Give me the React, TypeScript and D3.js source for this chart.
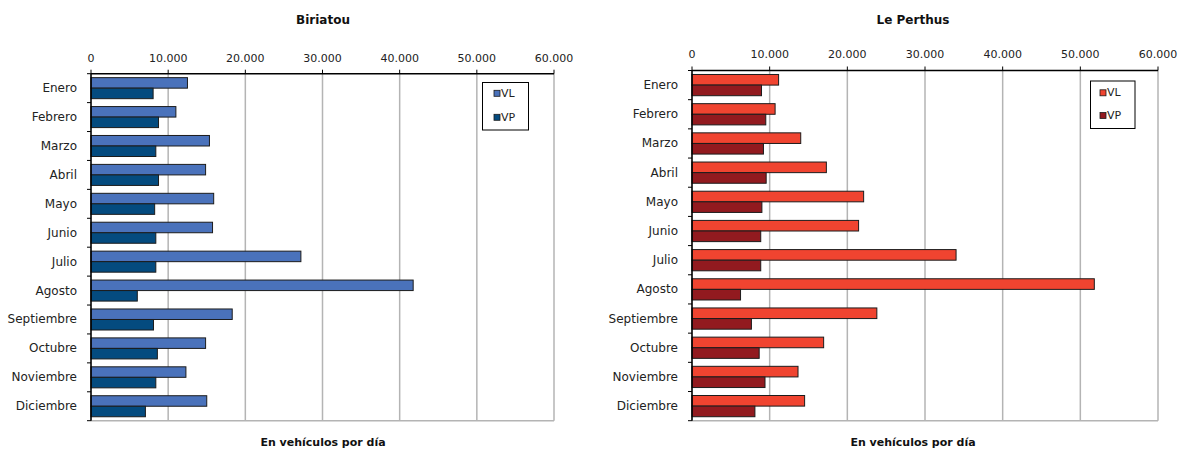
import React from "react";
import * as d3 from "d3";

// Average daily traffic by month at two border crossings (vehicles per day)
const months = [
  "Enero", "Febrero", "Marzo", "Abril", "Mayo", "Junio",
  "Julio", "Agosto", "Septiembre", "Octubre", "Noviembre", "Diciembre",
];
const seriesNames = ["VL", "VP"];

const biriatouVL = [12500, 11000, 15350, 14850, 15900, 15750, 27200, 41750, 18300, 14850, 12300, 15000];
const biriatouVP = [8050, 8750, 8400, 8750, 8250, 8400, 8400, 6000, 8100, 8600, 8400, 7050];

const perthusVL = [11150, 10700, 14000, 17300, 22100, 21450, 34000, 51800, 23800, 16950, 13650, 14500];
const perthusVP = [8950, 9500, 9200, 9550, 9000, 8850, 8850, 6250, 7650, 8650, 9400, 8100];

const axisMax = 60000;
const axisTitle = "En vehículos por día";

const esLocale = d3.formatLocale({
  decimal: ",",
  thousands: ".",
  grouping: [3],
  currency: ["", " €"],
});
const fmt = esLocale.format(",");

const FONT = "'DejaVu Sans', Verdana, sans-serif";

type PanelProps = {
  title: string;
  vl: number[];
  vp: number[];
  colors: [string, string];
  x0: number;
  x1: number;
  y0: number;
  y1: number;
  tickY: number;
  titleX: number;
  axisTitleX: number;
  legend: { x: number; y: number; w: number; h: number; sx: number; r1: number; r2: number };
};

function Panel(p: PanelProps) {
  const x = d3.scaleLinear().domain([0, axisMax]).range([p.x0, p.x1]);
  const gap = 0.75; // gap width relative to a single bar
  const y = d3
    .scaleBand<string>()
    .domain(months)
    .range([p.y0, p.y1])
    .paddingInner(gap / (2 + gap))
    .paddingOuter(gap / 2 / (2 + gap));
  const sub = d3.scaleBand<string>().domain(seriesNames).range([0, y.bandwidth()]);
  const ticks = x.ticks(6);
  const step = y.step();
  const boundaries = d3.range(months.length + 1).map((i) => p.y0 + i * step);
  const values = [p.vl, p.vp];

  return (
    <g>
      <text
        x={p.titleX}
        y={20}
        textAnchor="middle"
        dominantBaseline="central"
        fontFamily={FONT}
        fontWeight="bold"
        fontSize={12}
        fill="#111"
      >
        {p.title}
      </text>

      {/* vertical gridlines */}
      {ticks
        .filter((t) => t > 0)
        .map((t) => (
          <line key={"g" + t} x1={x(t)} x2={x(t)} y1={p.y0} y2={p.y1} stroke="#b4b4b4" strokeWidth={1.5} />
        ))}
      <line x1={p.x0} x2={p.x1} y1={p.y1} y2={p.y1} stroke="#b4b4b4" strokeWidth={1.5} />

      {/* bars */}
      {months.map((m, i) =>
        seriesNames.map((s, k) => (
          <rect
            key={m + s}
            x={x(0)}
            y={(y(m) as number) + (sub(s) as number)}
            width={x(values[k][i]) - x(0)}
            height={sub.bandwidth()}
            fill={p.colors[k]}
            stroke="#1c1c1c"
            strokeWidth={1}
          />
        ))
      )}

      {/* value axis along the top */}
      <line x1={p.x0} x2={p.x1} y1={p.y0} y2={p.y0} stroke="#000" strokeWidth={1.6} />
      {ticks.map((t) => (
        <g key={"t" + t}>
          <line x1={x(t)} x2={x(t)} y1={p.y0 - 4} y2={p.y0} stroke="#000" strokeWidth={1} />
          <text
            x={x(t)}
            y={p.tickY}
            textAnchor="middle"
            dominantBaseline="central"
            fontFamily={FONT}
            fontSize={11}
            fill="#222"
          >
            {fmt(t)}
          </text>
        </g>
      ))}

      {/* category axis */}
      <line x1={p.x0} x2={p.x0} y1={p.y0} y2={p.y1} stroke="#000" strokeWidth={1.6} />
      {boundaries.map((b, i) => (
        <line key={"c" + i} x1={p.x0 - 4} x2={p.x0} y1={b} y2={b} stroke="#000" strokeWidth={1} />
      ))}
      {months.map((m) => (
        <text
          key={"l" + m}
          x={p.x0 - 14}
          y={(y(m) as number) + y.bandwidth() / 2}
          textAnchor="end"
          dominantBaseline="central"
          fontFamily={FONT}
          fontSize={12}
          fill="#222"
        >
          {m}
        </text>
      ))}

      <text
        x={p.axisTitleX}
        y={442}
        textAnchor="middle"
        dominantBaseline="central"
        fontFamily={FONT}
        fontWeight="bold"
        fontSize={11}
        fill="#111"
      >
        {axisTitle}
      </text>

      {/* legend */}
      <rect x={p.legend.x} y={p.legend.y} width={p.legend.w} height={p.legend.h} fill="#fff" stroke="#000" strokeWidth={1} />
      {seriesNames.map((s, k) => {
        const cy = k === 0 ? p.legend.r1 : p.legend.r2;
        return (
          <g key={"lg" + s}>
            <rect
              x={p.legend.sx}
              y={cy - 3}
              width={6}
              height={6}
              fill={p.colors[k]}
              stroke="#1c1c1c"
              strokeWidth={0.8}
            />
            <text
              x={p.legend.sx + 7}
              y={cy}
              dominantBaseline="central"
              fontFamily={FONT}
              fontSize={11}
              fill="#222"
            >
              {s}
            </text>
          </g>
        );
      })}
    </g>
  );
}

export default function App() {
  return (
    <svg
      width={1190}
      height={452}
      style={{ position: "absolute", left: 0, top: 0, background: "#fff" }}
    >
      <rect width={1190} height={452} fill="#fff" />
      <Panel
        title="Biriatou"
        vl={biriatouVL}
        vp={biriatouVP}
        colors={["#4a72bb", "#044b7f"]}
        x0={91}
        x1={554}
        y0={73.7}
        y1={420.7}
        tickY={58}
        titleX={323}
        axisTitleX={323}
        legend={{ x: 482.5, y: 82.5, w: 46, h: 47.5, sx: 494, r1: 93.3, r2: 117.3 }}
      />
      <Panel
        title="Le Perthus"
        vl={perthusVL}
        vp={perthusVP}
        colors={["#f04430", "#921a1f"]}
        x0={692}
        x1={1158}
        y0={70.5}
        y1={420.7}
        tickY={54.5}
        titleX={913}
        axisTitleX={913}
        legend={{ x: 1090.5, y: 81, w: 44.5, h: 47.5, sx: 1100, r1: 92.8, r2: 115.5 }}
      />
    </svg>
  );
}
